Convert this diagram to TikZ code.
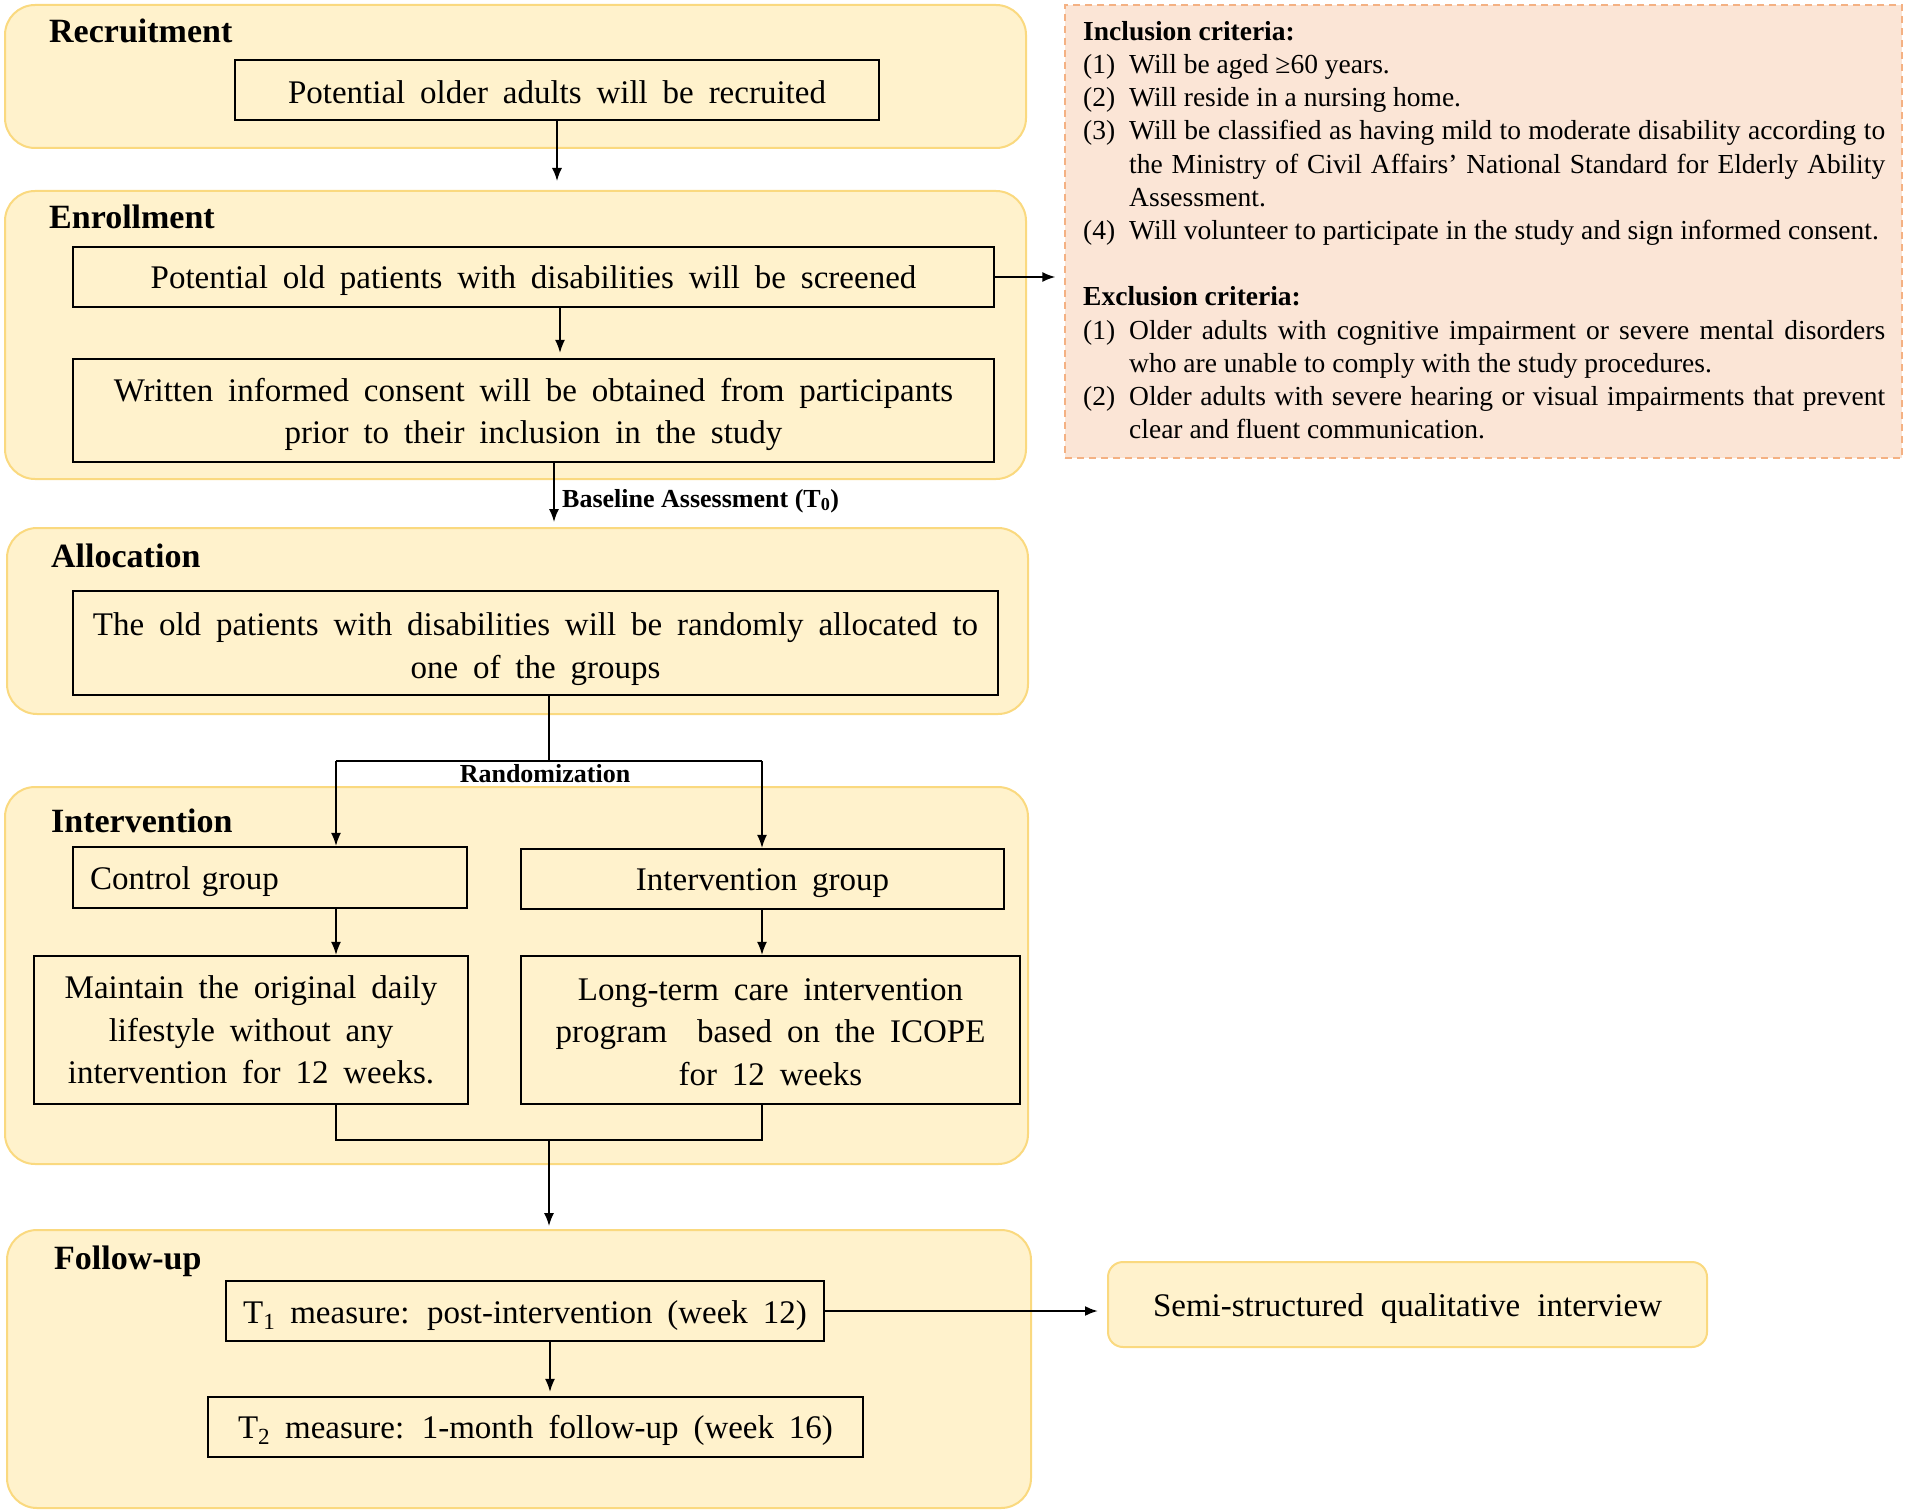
\documentclass[tikz,border=0pt]{standalone}
\usepackage{fontspec}
\setmainfont{Liberation Serif}
\usetikzlibrary{arrows.meta,calc}
\definecolor{panelfill}{HTML}{FFF2CC}
\definecolor{paneldraw}{HTML}{FAD97F}
\definecolor{critfill}{HTML}{FBE5D6}
\definecolor{critdraw}{HTML}{F4B183}
\newcommand\bodyfont{\fontsize{33}{42.6}\selectfont\spaceskip=0.45em plus 0.15em minus 0.05em\relax}
\newcommand\semifont{\fontsize{33}{42.6}\selectfont\spaceskip=0.52em\relax}
\newcommand\headfont{\fontsize{34}{40}\selectfont\bfseries}
\newcommand\smallbold{\fontsize{26}{30}\selectfont\bfseries}
\newcommand\critfont{\fontsize{27.5}{33.2}\selectfont}
\newcommand\critem[2]{\par\noindent\hangindent=46pt\hangafter=1 \makebox[46pt][l]{#1}#2\par}
\newcommand\hup[1]{\rule{0pt}{#1}}
\begin{document}
\begin{tikzpicture}[x=1pt,y=-1pt,
 panel/.style={draw=paneldraw,fill=panelfill,line width=2pt,rounded corners=30pt,inner sep=0pt},
 stepbox/.style={draw=black,line width=2.2pt,inner sep=0pt,align=center,font=\bodyfont},
 head/.style={anchor=base west,inner sep=0pt,font=\headfont},
 arr/.style={-{Latex[length=13pt,width=10pt]},line width=1.5pt},
 ln/.style={line width=1.5pt},
 lab/.style={inner sep=0pt,font=\smallbold}]
\useasboundingbox (0,0) rectangle (1908,1511);
% panels
\node[panel,minimum width=1021pt,minimum height=143pt] (recP) at (515.5,76.5) {};
\node[panel,minimum width=1021pt,minimum height=288pt] (enrP) at (515.5,335) {};
\node[panel,minimum width=1021pt,minimum height=186pt] (allocP) at (517.5,621) {};
\node[panel,minimum width=1023pt,minimum height=377pt] (intP) at (516.5,975.5) {};
\node[panel,minimum width=1024pt,minimum height=278pt] (fuP) at (519,1369) {};
\node[panel,rounded corners=15pt,minimum width=599pt,minimum height=85pt,font=\semifont] (semi) at (1407.5,1304.5) {\hup{31pt}Semi-structured qualitative interview};
% criteria
\node[draw=critdraw,fill=critfill,dash pattern=on 7pt off 5pt,line width=1.5pt,minimum width=837pt,minimum height=453pt,inner sep=0pt] (crit) at (1483.5,231.5) {};
\node[anchor=north west,inner sep=0pt,text width=802pt,align=justify,font=\critfont] (crittext) at (1083,21) {%
\noindent{\bfseries Inclusion criteria:}\par
\critem{(1)}{Will be aged ≥60 years.}
\critem{(2)}{Will reside in a nursing home.}
\critem{(3)}{Will be classified as having mild to moderate disability according to\linebreak the Ministry of Civil Affairs’ National Standard for Elderly Ability\linebreak Assessment.}
\critem{(4)}{Will volunteer to participate in the study and sign informed consent.}
\vskip 33.2pt
\noindent{\bfseries Exclusion criteria:}\par
\critem{(1)}{Older adults with cognitive impairment or severe mental disorders\linebreak who are unable to comply with the study procedures.}
\critem{(2)}{Older adults with severe hearing or visual impairments that prevent\linebreak clear and fluent communication.}};
% headings
\node[head] (hrec) at (49,42.6) {Recruitment};
\node[head] (henr) at (49,229) {Enrollment};
\node[head] (halloc) at (51,567) {Allocation};
\node[head] (hint) at (51,832) {Intervention};
\node[head] (hfu) at (54,1269) {Follow-up};
% boxes
\node[stepbox,minimum width=644pt,minimum height=60pt] (rec) at (557,90) {\hup{28pt}Potential older adults will be recruited};
\node[stepbox,minimum width=921pt,minimum height=60pt] (screen) at (533.5,277) {\hup{31pt}Potential old patients with disabilities will be screened};
\node[stepbox,minimum width=921pt,minimum height=103pt] (consent) at (533.5,410.5) {\hup{31pt}Written informed consent will be obtained from participants\\prior to their inclusion in the study};
\node[stepbox,minimum width=925pt,minimum height=104pt] (alloc) at (535.5,643) {\hup{35pt}The old patients with disabilities will be randomly allocated to\\one of the groups};
\node[stepbox,text width=360pt,inner xsep=17pt,align=left,minimum height=61pt] (control) at (270,877.5) {\hup{31pt}Control group};
\node[stepbox,minimum width=483pt,minimum height=60pt] (intg) at (762.5,879) {\hup{31pt}Intervention group};
\node[stepbox,minimum width=434pt,minimum height=148pt] (maintain) at (251,1030) {Maintain the original daily\\lifestyle without any\\intervention for 12 weeks.};
\node[stepbox,minimum width=499pt,minimum height=148pt] (longterm) at (770.5,1030) {\hup{26pt}Long-term care intervention\\program\ \ based on the ICOPE\\for 12 weeks};
\node[stepbox,minimum width=598pt,minimum height=60pt] (t1) at (525,1311) {\hup{31pt}T\textsubscript{1} measure: post-intervention (week 12)};
\node[stepbox,minimum width=655pt,minimum height=60pt] (t2) at (535.5,1427) {\hup{29pt}T\textsubscript{2} measure: 1-month follow-up (week 16)};
% labels
\node[lab,anchor=west] (baseline) at (562,501) {Baseline Assessment (T\textsubscript{0})};
\node[lab] (randlab) at (545,774) {Randomization};
% connectors
\draw[arr,shorten >=9pt] (rec.south) -- (rec.south |- enrP.north);
\draw[arr,shorten >=9pt] (screen.east) -- (screen.east -| crit.west);
\draw[arr,shorten >=5pt] ([xshift=26.5pt]screen.south) -- ([xshift=26.5pt]consent.north);
\draw[arr,shorten >=5pt] ([xshift=20.5pt]consent.south) -- ([xshift=20.5pt]consent.south |- allocP.north);
\coordinate (split) at (549,761);
\coordinate (rl) at (336,761);
\coordinate (rr) at (762,761);
\draw[ln] ([xshift=13.5pt]alloc.south) -- (split);
\draw[ln] (rl) -- (rr);
\draw[arr] (rl) -- (rl |- control.north);
\draw[arr] (rr) -- (rr |- intg.north);
\draw[arr] (rl |- control.south) -- (rl |- maintain.north);
\draw[arr] (rr |- intg.south) -- (rr |- longterm.north);
\coordinate (jl) at (336,1140);
\coordinate (jr) at (762,1140);
\coordinate (jm) at (549,1140);
\draw[ln] (rl |- maintain.south) -- (jl) -- (jr) -- (rr |- longterm.south);
\draw[arr,shorten >=3pt] (jm) -- (jm |- fuP.north);
\draw[arr,line width=2.2pt,shorten >=9pt] (t1.east) -- (t1.east -| semi.west);
\draw[arr,shorten >=4pt] ([xshift=25pt]t1.south) -- ([xshift=25pt]t1.south |- t2.north);
\end{tikzpicture}
\end{document}
